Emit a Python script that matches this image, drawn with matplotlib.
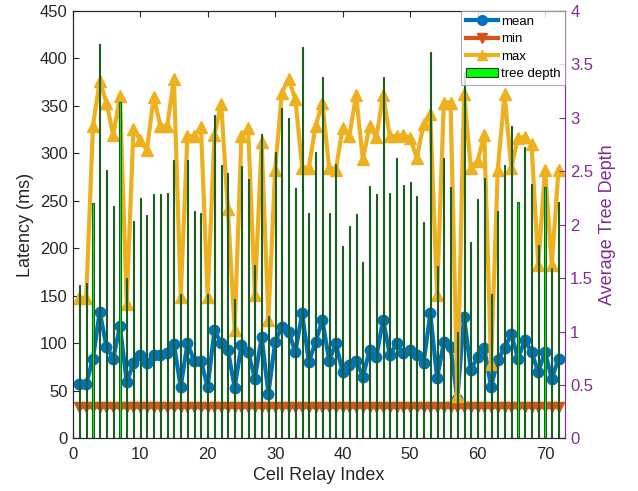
import matplotlib
matplotlib.use("Agg")
import matplotlib.pyplot as plt
from matplotlib.lines import Line2D
from matplotlib.patches import Patch
import numpy as np

plt.rcParams['font.family'] = ['Liberation Sans', 'DejaVu Sans']

relay_index = list(range(1, 73))

mean_latency = [57, 57.5, 84, 133.5, 96.5, 84, 118, 59.5, 79, 87.7,
                79, 87.7, 87.7, 89.5, 99, 54, 100, 82, 82, 54,
                114, 100, 93, 53.5, 98, 91, 63, 107, 47, 101.7,
                117.6, 112, 91, 131.7, 80.6, 101.7, 124.6, 82, 100, 70,
                77, 82, 65, 93, 86, 125, 87.7, 100, 89.5, 93,
                87.7, 79, 131.7, 63.5, 101, 96, 42, 128, 72, 86,
                95, 54.5, 82.5, 95, 110, 84, 103.5, 91, 70, 91,
                63, 84]

min_latency = [33] * 72

max_latency = [148, 148, 329, 376, 353.5, 319, 360.5, 141.5, 326, 314,
               303.5, 359.5, 329, 329, 378, 149, 318, 318, 328, 149,
               319, 352, 241, 114, 318, 327, 151, 312, 125, 283,
               364, 378, 357, 285, 285, 329, 353.5, 285, 283, 327,
               318, 361, 293.6, 329, 317, 361, 318, 318, 319, 316.5,
               295, 330.6, 341, 151, 353.5, 353.5, 45, 362, 285, 292,
               319, 78, 283, 362, 285, 316.5, 317, 309.5, 182.7, 283,
               182.7, 283]

tree_depth = [1.44, 1.45, 2.20, 3.69, 2.51, 2.17, 3.15, 1.50, 2.03, 2.25,
              2.09, 2.29, 2.29, 2.30, 2.60, 1.35, 2.60, 2.13, 2.11, 1.35,
              3.03, 2.56, 2.48, 1.30, 2.55, 2.43, 1.62, 2.85, 1.15, 2.68,
              3.09, 3.00, 2.34, 3.66, 2.11, 2.68, 3.38, 2.11, 2.57, 1.80,
              1.99, 2.10, 1.65, 2.36, 2.29, 3.38, 2.30, 2.62, 2.37, 2.40,
              2.27, 2.02, 3.61, 1.61, 2.62, 2.35, 1.00, 3.43, 1.84, 2.24,
              2.44, 1.35, 2.13, 2.56, 2.92, 2.21, 2.73, 2.38, 1.81, 2.35,
              1.59, 2.21]

c_mean = '#0072BD'
c_min = '#D95319'
c_max = '#EDB120'
c_purple = '#7E2F8E'
c_bar = '#00FF00'
c_edge = '#1B5E20'

fig = plt.figure(figsize=(6.38, 4.91), dpi=100)
ax = fig.add_axes([0.114, 0.107, 0.772, 0.871])
ax2 = ax.twinx()

ax.plot(relay_index, mean_latency, '-o', color=c_mean, lw=3, ms=7.5, zorder=3)
ax.plot(relay_index, min_latency, '-v', color=c_min, lw=3, ms=7.5, zorder=3)
ax.plot(relay_index, max_latency, '-^', color=c_max, lw=3, ms=8, zorder=3)

ax2.bar(relay_index, tree_depth, width=0.16, color=c_bar, edgecolor=c_edge,
        linewidth=0.8)

ax.set_xlim(0, 73)
ax.set_ylim(0, 450)
ax2.set_ylim(0, 4)
ax.set_xticks(np.arange(0, 71, 10))
ax.set_yticks(np.arange(0, 451, 50))
ax2.set_yticks(np.arange(0, 4.01, 0.5))
ax2.set_yticklabels(['0', '0.5', '1', '1.5', '2', '2.5', '3', '3.5', '4'])

ax.tick_params(axis='both', direction='in', labelsize=12, colors='#262626', top=True, length=4)
ax.tick_params(axis='x', pad=6)
ax2.tick_params(axis='y', direction='in', labelsize=12, colors=c_purple, length=4)

for s in ['left', 'bottom', 'top']:
    ax.spines[s].set_color('#262626')
    ax2.spines[s].set_color('#262626')
ax2.spines['right'].set_color(c_purple)
ax.spines['right'].set_color(c_purple)

ax.set_xlabel('Cell Relay Index', fontsize=13, color='#262626')
ax.set_ylabel('Latency (ms)', fontsize=13, color='#262626')
ax2.set_ylabel('Average Tree Depth', fontsize=13, color=c_purple)

handles = [
    Line2D([], [], color=c_mean, lw=3, marker='o', ms=7),
    Line2D([], [], color=c_min, lw=3, marker='v', ms=7),
    Line2D([], [], color=c_max, lw=3, marker='^', ms=7),
    Patch(facecolor=c_bar, edgecolor='#333333', lw=0.8),
]
leg = ax2.legend(handles, ['mean', 'min', 'max', 'tree depth'], loc='upper right',
                 fontsize=9.5, frameon=True, fancybox=False, edgecolor='#999999',
                 borderaxespad=0.0, handlelength=2.4, handletextpad=0.25,
                 labelspacing=0.4, borderpad=0.35)
leg.get_frame().set_linewidth(0.8)

fig.savefig('out.png', dpi=100)
